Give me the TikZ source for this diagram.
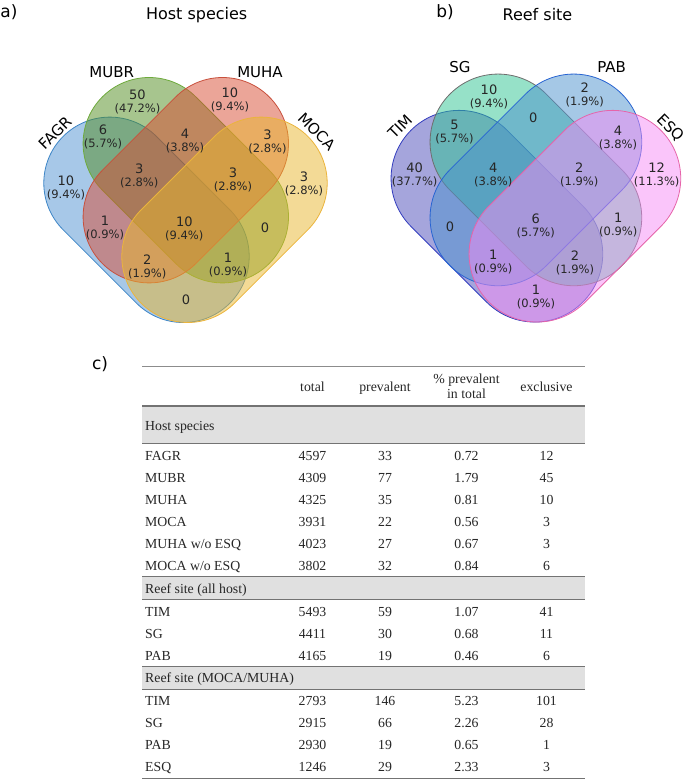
\documentclass[tikz,border=0pt]{standalone}
\usepackage{fontspec}
\setmainfont{Liberation Serif}
\newfontfamily\vennfont{DejaVu Sans}
\usepackage{xcolor}
\usepackage{tikz}
\usetikzlibrary{shapes.misc}
\definecolor{fagrfill}{RGB}{80,145,210}
\definecolor{fagrline}{RGB}{61,133,198}
\definecolor{mubrfill}{RGB}{80,140,30}
\definecolor{mubrline}{RGB}{110,170,60}
\definecolor{muhafill}{RGB}{215,75,50}
\definecolor{muhaline}{RGB}{200,80,60}
\definecolor{mocafill}{RGB}{232,182,45}
\definecolor{mocaline}{RGB}{235,180,60}
\definecolor{timfill}{RGB}{75,75,185}
\definecolor{timline}{RGB}{50,60,190}
\definecolor{sgfill}{RGB}{45,195,145}
\definecolor{sgline}{RGB}{110,110,110}
\definecolor{pabfill}{RGB}{75,145,205}
\definecolor{pabline}{RGB}{40,100,210}
\definecolor{esqfill}{RGB}{245,140,245}
\definecolor{esqline}{RGB}{230,100,170}
\definecolor{bandgray}{RGB}{224,224,224}
\tikzset{
	venn_a/.style={rounded rectangle, inner sep=0pt, minimum width=235.8pt,
			minimum height=132pt, fill opacity=0.5, line width=0.8pt},
	venn_b/.style={venn_a, minimum width=243pt, minimum height=136pt},
	panel_lbl/.style={font=\vennfont\fontsize{17}{17}\selectfont, inner sep=0pt},
	title_lbl/.style={font=\vennfont\fontsize{16}{16}\selectfont, inner sep=0pt},
	set_lbl/.style={font=\vennfont\fontsize{15}{15}\selectfont, inner sep=0pt},
	region_lbl/.style={align=center, font=\vennfont\fontsize{13}{13}\selectfont,
			inner sep=0pt, text=black!85},
	row_head/.style={anchor=base west, inner sep=0pt, text=black!85,
			font=\fontsize{13.8}{15}\selectfont},
	row_cell/.style={row_head, anchor=base},
	tab_rule/.style={draw=black!55, line width=1.4pt}
}
\newcommand{\vcount}[2]{#1\\{\fontsize{11.5}{13}\selectfont(#2\%)}}
\newcommand{\tabrow}[7]{%
	\node[row_head] (#1-name) at (145,#2) {#3};
	\node[row_cell] (#1-tot) at (312.5,#2) {#4};
	\node[row_cell] (#1-prev) at (385,#2) {#5};
	\node[row_cell] (#1-pct) at (466.5,#2) {#6};
	\node[row_cell] (#1-excl) at (546.5,#2) {#7};
}

\begin{document}
\begin{tikzpicture}[x=1pt, y=-1pt]
	\useasboundingbox (0,0) rectangle (685,780);
	% a) host species
	\node[panel_lbl] (lbl-a) at (9,12) {a)};
	\node[title_lbl] (title-a) at (196.7,15) {Host species};
	\node[venn_a, fill=fagrfill, draw=fagrline, rotate=-45] (fagr) at (146.5,219.8) {};
	\node[venn_a, fill=mubrfill, draw=mubrline, rotate=-45] (mubr) at (185.8,180.2) {};
	\node[venn_a, fill=muhafill, draw=muhaline, rotate=45] (muha) at (185.8,180.2) {};
	\node[venn_a, fill=mocafill, draw=mocaline, rotate=45] (moca) at (224.5,219.8) {};
	\node[set_lbl, rotate=45] (fagr-lbl) at (55,133) {FAGR};
	\node[set_lbl] (mubr-lbl) at (111.7,71.7) {MUBR};
	\node[set_lbl] (muha-lbl) at (260,71.7) {MUHA};
	\node[set_lbl, rotate=-45] (moca-lbl) at (316.7,131.7) {MOCA};
	\node[region_lbl] (a-b) at (137.5,101.5) {\vcount{50}{47.2}};
	\node[region_lbl] (a-h) at (230,100) {\vcount{10}{9.4}};
	\node[region_lbl] (a-fb) at (103,137) {\vcount{6}{5.7}};
	\node[region_lbl] (a-bh) at (185,141) {\vcount{4}{3.8}};
	\node[region_lbl] (a-hm) at (267.5,142) {\vcount{3}{2.8}};
	\node[region_lbl] (a-f) at (66,188) {\vcount{10}{9.4}};
	\node[region_lbl] (a-fbh) at (139.3,176) {\vcount{3}{2.8}};
	\node[region_lbl] (a-bhm) at (233,180) {\vcount{3}{2.8}};
	\node[region_lbl] (a-m) at (304,184) {\vcount{3}{2.8}};
	\node[region_lbl] (a-fh) at (105,228) {\vcount{1}{0.9}};
	\node[region_lbl] (a-all) at (184.3,229) {\vcount{10}{9.4}};
	\node[region_lbl] (a-bm) at (265,227.3) {0};
	\node[region_lbl] (a-fhm) at (147.3,266.7) {\vcount{2}{1.9}};
	\node[region_lbl] (a-fbm) at (228,265) {\vcount{1}{0.9}};
	\node[region_lbl] (a-fm) at (186,299.3) {0};
	% b) reef site
	\node[panel_lbl] (lbl-b) at (445,12) {b)};
	\node[title_lbl] (title-b) at (537.5,15) {Reef site};
	\node[venn_b, fill=timfill, draw=timline, rotate=-45] (tim) at (496.9,216.2) {};
	\node[venn_b, fill=sgfill, draw=sgline, rotate=-45] (sg) at (535.9,179.9) {};
	\node[venn_b, fill=pabfill, draw=pabline, rotate=45] (pab) at (535.9,179.9) {};
	\node[venn_b, fill=esqfill, draw=esqline, rotate=45] (esq) at (574.9,216.2) {};
	\node[set_lbl, rotate=45] (tim-lbl) at (400,126.7) {TIM};
	\node[set_lbl] (sg-lbl) at (460,66.7) {SG};
	\node[set_lbl] (pab-lbl) at (611.7,66.7) {PAB};
	\node[set_lbl, rotate=-45] (esq-lbl) at (670,128) {ESQ};
	\node[region_lbl] (b-s) at (489,97) {\vcount{10}{9.4}};
	\node[region_lbl] (b-p) at (584.7,95.3) {\vcount{2}{1.9}};
	\node[region_lbl] (b-sp) at (533.3,117.7) {0};
	\node[region_lbl] (b-ts) at (454.5,132) {\vcount{5}{5.7}};
	\node[region_lbl] (b-pe) at (618,137.7) {\vcount{4}{3.8}};
	\node[region_lbl] (b-t) at (414.7,175.3) {\vcount{40}{37.7}};
	\node[region_lbl] (b-tsp) at (493.3,174.7) {\vcount{4}{3.8}};
	\node[region_lbl] (b-spe) at (579.3,175) {\vcount{2}{1.9}};
	\node[region_lbl] (b-e) at (656.7,175) {\vcount{12}{11.3}};
	\node[region_lbl] (b-tp) at (450,226.7) {0};
	\node[region_lbl] (b-all) at (535.7,226) {\vcount{6}{5.7}};
	\node[region_lbl] (b-se) at (618.3,225.5) {\vcount{1}{0.9}};
	\node[region_lbl] (b-tpe) at (493.3,262.5) {\vcount{1}{0.9}};
	\node[region_lbl] (b-tse) at (575,263.3) {\vcount{2}{1.9}};
	\node[region_lbl] (b-te) at (536,297) {\vcount{1}{0.9}};
	% c) table
	\node[panel_lbl] (lbl-c) at (100,364) {c)};
	\fill[bandgray] (142,406) rectangle (585,443.3);
	\fill[bandgray] (142,576.7) rectangle (585,599.3);
	\fill[bandgray] (142,666.7) rectangle (585,689.3);
	\draw[tab_rule, line width=1pt, draw=black!45] (142,366) -- (585,366);
	\draw[tab_rule] (142,406) -- (585,406);
	\draw[tab_rule] (142,443.3) -- (585,443.3);
	\draw[tab_rule] (142,576.7) -- (585,576.7);
	\draw[tab_rule] (142,599.3) -- (585,599.3);
	\draw[tab_rule] (142,666.7) -- (585,666.7);
	\draw[tab_rule] (142,689.3) -- (585,689.3);
	\draw[tab_rule] (142,778.3) -- (585,778.3);
	\node[row_cell] (hd-tot) at (312.5,391.8) {total};
	\node[row_cell] (hd-prev) at (385,391.8) {prevalent};
	\node[row_cell, align=center] (hd-pct) at (466.5,398.8) {\% prevalent\\in total};
	\node[row_cell] (hd-excl) at (546.5,391.8) {exclusive};
	\node[row_head] (grp-host) at (145,430.2) {Host species};
	\tabrow{fagr}{460.2}{FAGR}{4597}{33}{0.72}{12}
	\tabrow{mubr}{482.3}{MUBR}{4309}{77}{1.79}{45}
	\tabrow{muha}{504.4}{MUHA}{4325}{35}{0.81}{10}
	\tabrow{moca}{526.5}{MOCA}{3931}{22}{0.56}{3}
	\tabrow{muhax}{548.6}{MUHA w/o ESQ}{4023}{27}{0.67}{3}
	\tabrow{mocax}{570.7}{MOCA w/o ESQ}{3802}{32}{0.84}{6}
	\node[row_head] (grp-all) at (145,593.5) {Reef site (all host)};
	\tabrow{tim}{616}{TIM}{5493}{59}{1.07}{41}
	\tabrow{sg}{638.1}{SG}{4411}{30}{0.68}{11}
	\tabrow{pab}{660.2}{PAB}{4165}{19}{0.46}{6}
	\node[row_head] (grp-mm) at (145,682.8) {Reef site (MOCA/MUHA)};
	\tabrow{tim2}{705.3}{TIM}{2793}{146}{5.23}{101}
	\tabrow{sg2}{727.4}{SG}{2915}{66}{2.26}{28}
	\tabrow{pab2}{749.5}{PAB}{2930}{19}{0.65}{1}
	\tabrow{esq2}{771.6}{ESQ}{1246}{29}{2.33}{3}
\end{tikzpicture}
\end{document}
